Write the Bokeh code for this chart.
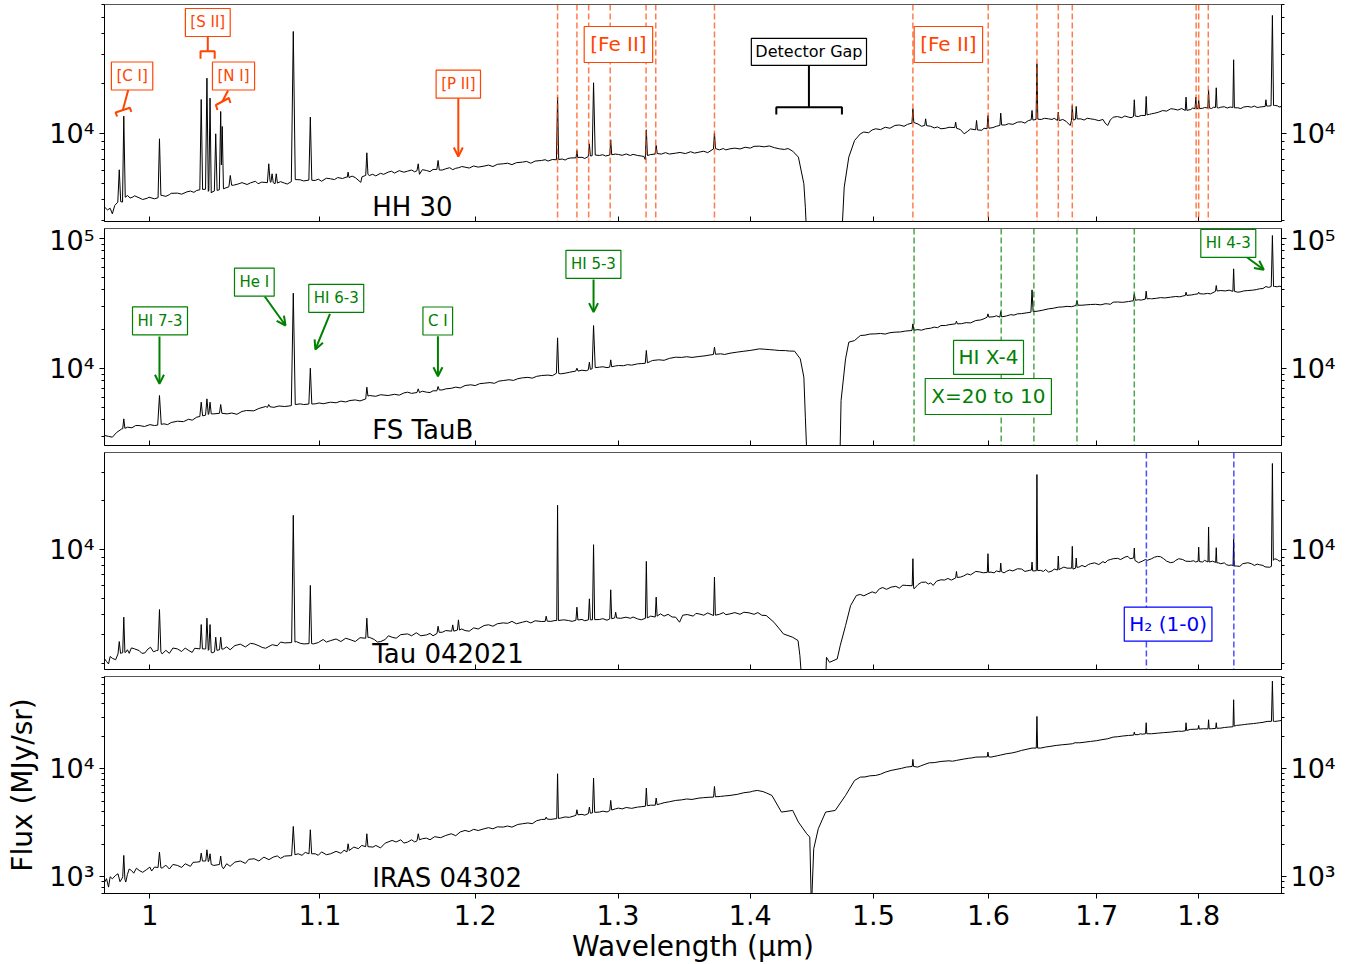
from bokeh.plotting import figure
from bokeh.models import (Range1d, FixedTicker, CustomJSTickFormatter, LogAxis,
                          Span, Label, Arrow, OpenHead)
from bokeh.layouts import column
from bokeh.embed import file_html
from bokeh.resources import INLINE

FONT = "DejaVu Sans"
RED = "#ff4500"
GREEN = "#008000"
BLUE = "#0000ff"

# ---------------------------------------------------------------- data
x_ticks = [1.0, 1.1, 1.2, 1.3, 1.4, 1.5, 1.6, 1.7, 1.8]
x_limits = (0.9749, 1.8855)
y_major = [1e2, 1e3, 1e4, 1e5, 1e6]
y_minor = [m * 10.0 ** e for e in range(2, 6) for m in range(2, 10)]

panel_names = ["HH 30", "FS TauB", "Tau 042021", "IRAS 04302"]
panel_ylims = [(2963, 60100), (2543, 118700), (1829, 39700), (700, 71500)]
name_pos = [(1.1327, 3633), (1.1327, 3336), (1.1327, 2268), (1.1327, 969)]

# --- HH 30: continuum nodes and emission lines
hh30_wl = [
    0.9750, 0.9765, 0.9780, 0.9792, 0.9805, 0.9822, 0.9830, 0.9838,
    0.9848, 0.9855, 0.9863, 0.9876, 0.9905, 0.9940, 0.9985, 1.0026,
    1.0046, 1.0054, 1.0062, 1.0069, 1.0110, 1.0156, 1.0210, 1.0266,
    1.0284, 1.0292, 1.0300, 1.0317, 1.0325, 1.0333, 1.0336, 1.0343,
    1.0350, 1.0354, 1.0368, 1.0376, 1.0384, 1.0397, 1.0405, 1.0409,
    1.0414, 1.0421, 1.0453, 1.0461, 1.0469, 1.0511, 1.0580, 1.0647,
    1.0681, 1.0689, 1.0697, 1.0702, 1.0709, 1.0716, 1.0727, 1.0734,
    1.0741, 1.0785, 1.0825, 1.0837, 1.0849, 1.0879, 1.0932, 1.0941,
    1.0950, 1.0971, 1.1066, 1.1163, 1.1170, 1.1175, 1.1181, 1.1255,
    1.1262, 1.1286, 1.1293, 1.1300, 1.1308, 1.1429, 1.1554, 1.1615,
    1.1623, 1.1631, 1.1677, 1.1745, 1.1753, 1.1761, 1.1804, 1.1890,
    1.1932, 1.2060, 1.2190, 1.2322, 1.2455, 1.2559, 1.2567, 1.2575,
    1.2640, 1.2698, 1.2704, 1.2710, 1.2785, 1.2793, 1.2800, 1.2813,
    1.2823, 1.2835, 1.2864, 1.2940, 1.2947, 1.2954, 1.3003, 1.3143,
    1.3190, 1.3200, 1.3208, 1.3216, 1.3273, 1.3281, 1.3289, 1.3427,
    1.3603, 1.3714, 1.3722, 1.3730, 1.3842, 1.4071, 1.4230, 1.4337,
    1.4383, 1.4427, 1.4439, 1.4455, 1.4731, 1.4757, 1.4795, 1.4843,
    1.4891, 1.5020, 1.5182, 1.5328, 1.5336, 1.5344, 1.5438, 1.5446,
    1.5454, 1.5579, 1.5700, 1.5708, 1.5716, 1.5783, 1.5885, 1.5893,
    1.5901, 1.5987, 1.5995, 1.6003, 1.6102, 1.6110, 1.6118, 1.6262,
    1.6387, 1.6395, 1.6403, 1.6432, 1.6440, 1.6448, 1.6547, 1.6630,
    1.6638, 1.6646, 1.6749, 1.6761, 1.6769, 1.6777, 1.6798, 1.6806,
    1.6814, 1.6941, 1.7105, 1.7158, 1.7306, 1.7354, 1.7362, 1.7370,
    1.7470, 1.7478, 1.7486, 1.7531, 1.7720, 1.7865, 1.7873, 1.7881,
    1.7963, 1.7971, 1.7979, 1.7992, 1.8000, 1.8008, 1.8092, 1.8100,
    1.8108, 1.8170, 1.8178, 1.8186, 1.8225, 1.8348, 1.8356, 1.8364,
    1.8400, 1.8503, 1.8623, 1.8683, 1.8691, 1.8699, 1.8745, 1.8759,
    1.8771, 1.8783, 1.8856,
]
hh30_flux = [
    3615, 3480, 3560, 3297, 3700, 3876, 6069, 3900,
    3880, 12780, 4150, 4251, 4160, 4117, 4090, 4059,
    4120, 9330, 4260, 4251, 4300, 4391, 4470, 4557,
    4600, 16100, 4620, 4640, 21640, 4500, 4560, 16400,
    4400, 4453, 4520, 10000, 4560, 4600, 13630, 6500,
    11070, 4664, 4800, 5610, 4900, 4998, 5060, 5115,
    5080, 6597, 5150, 5100, 5742, 5080, 5000, 5742,
    5050, 5044, 5150, 41340, 5300, 5284, 5260, 12600,
    5250, 5235, 5357, 5482, 5480, 5876, 5450, 5100,
    5500, 5620, 7683, 5700, 5610, 5876, 5958, 6000,
    6597, 5700, 6014, 6100, 6909, 6050, 6155, 6250,
    6298, 6388, 6597, 6750, 6909, 6973, 16630, 7000,
    7100, 7169, 7934, 7200, 7300, 8704, 7350, 7380,
    20290, 7450, 7405, 7450, 9202, 7480, 7508, 7405,
    7300, 7000, 10570, 7400, 7550, 8505, 7600, 7647,
    7754, 8100, 10090, 8150, 8121, 8427, 8121, 7863,
    7236, 4998, 3615, 2000, 2000, 4773, 7236, 9117,
    10000, 10720, 11230, 11600, 14150, 11700, 11230, 12310,
    11200, 10720, 10900, 11760, 10800, 10000, 10570, 12030,
    10550, 10720, 12890, 10800, 11230, 13320, 11300, 11760,
    12140, 13820, 12100, 12200, 26410, 12250, 12310, 12030,
    13510, 12000, 11230, 12000, 14820, 12100, 12200, 14610,
    12300, 12310, 11230, 12600, 12600, 12700, 16030, 12800,
    12890, 16790, 13000, 13200, 14150, 13820, 16630, 13850,
    14150, 16630, 14150, 14200, 15880, 14200, 14300, 18410,
    14300, 14400, 18930, 14400, 14470, 14400, 27920, 14350,
    14340, 14610, 14470, 14600, 16030, 14700, 14750, 51640,
    14820, 14820, 14610,
]
# --- HH 30: small continuum wiggles
hh30_noise_wl = [
    0.9890, 0.9915, 0.9960, 0.9995, 1.0090, 1.0120, 1.0180, 1.0230,
    1.0250, 1.0480, 1.0530, 1.0560, 1.0610, 1.0625, 1.0760, 1.0800,
    1.0900, 1.0990, 1.1010, 1.1040, 1.1090, 1.1110, 1.1140, 1.1200,
    1.1220, 1.1330, 1.1350, 1.1380, 1.1400, 1.1450, 1.1470, 1.1500,
    1.1530, 1.1580, 1.1600, 1.1650, 1.1700, 1.1720, 1.1780, 1.1830,
    1.1850, 1.1870, 1.1910, 1.1960, 1.1990, 1.2020, 1.2090, 1.2120,
    1.2150, 1.2220, 1.2250, 1.2280, 1.2350, 1.2380, 1.2410, 1.2480,
    1.2500, 1.2530, 1.2600, 1.2620, 1.2660, 1.2740, 1.2760, 1.2890,
    1.2910, 1.2980, 1.3030, 1.3060, 1.3090, 1.3110, 1.3170, 1.3240,
    1.3320, 1.3350, 1.3380, 1.3460, 1.3500, 1.3540, 1.3570, 1.3640,
    1.3670, 1.3760, 1.3790, 1.3810, 1.3880, 1.3920, 1.3960, 1.4000,
    1.4030, 1.4110, 1.4150, 1.4190, 1.4270, 1.4300,
    1.4920, 1.4960, 1.4990, 1.5060, 1.5100, 1.5140, 1.5220, 1.5260,
    1.5290, 1.5380, 1.5410, 1.5490, 1.5520, 1.5550, 1.5620, 1.5650,
    1.5750, 1.5810, 1.5840, 1.5940, 1.5960, 1.6040, 1.6070, 1.6150,
    1.6180, 1.6220, 1.6300, 1.6330, 1.6360, 1.6480, 1.6510, 1.6580,
    1.6600, 1.6680, 1.6710, 1.6850, 1.6880, 1.6910, 1.6980, 1.7020,
    1.7060, 1.7080, 1.7130, 1.7200, 1.7240, 1.7270, 1.7330, 1.7400,
    1.7430, 1.7510, 1.7560, 1.7600, 1.7640, 1.7680, 1.7750, 1.7790,
    1.7830, 1.7920, 1.7940, 1.8040, 1.8060, 1.8130, 1.8150, 1.8200,
    1.8260, 1.8290, 1.8320, 1.8430, 1.8460, 1.8540, 1.8570, 1.8600,
    1.8650, 1.8720, 1.8810, 1.8830,
]
hh30_noise_flux = [
    4100, 4230, 4020, 4150, 4200, 4380, 4330, 4520,
    4440, 4900, 5080, 4950, 5180, 5000, 5150, 4980,
    5200, 5330, 5180, 5400, 5300, 5450, 5380, 5560,
    5450, 5700, 5580, 5780, 5700, 5950, 5800, 6000,
    5870, 6050, 5900, 6080, 5920, 6100, 6050, 6250,
    6080, 6200, 6350, 6220, 6400, 6300, 6480, 6350,
    6550, 6650, 6520, 6700, 6820, 6650, 6850, 6980,
    6850, 7000, 7050, 6950, 7150, 7220, 7100, 7480,
    7350, 7550, 7420, 7560, 7400, 7520, 7350, 7500,
    7550, 7700, 7550, 7720, 7600, 7800, 7650, 7850,
    7700, 8000, 8150, 8000, 8200, 8100, 8300, 8200,
    8400, 8350, 8450, 8250, 8050, 8150,
    10250, 10150, 10550, 10600, 10950, 10800, 11300, 11100,
    11400, 11450, 11100, 11100, 10850, 11000, 10800, 10950,
    10600, 10300, 10700, 10500, 10800, 10900, 11100, 11300,
    11500, 11400, 11800, 11600, 12000, 12200, 12400, 12200,
    12400, 12200, 11900, 12300, 12100, 12400, 12200, 12000,
    12200, 11600, 12100, 12700, 12500, 12800, 12500, 12700,
    12900, 13100, 13300, 13500, 13800, 13700, 14100, 13900,
    14200, 14000, 14300, 14250, 14400, 14200, 14450, 14300,
    14550, 14300, 14500, 14200, 14500, 14450, 14700, 14400,
    14550, 14700, 14750, 14500,
]

# --- FS TauB
fstaub_wl = [
    0.9750, 0.9770, 0.9792, 0.9815, 0.9844, 0.9849, 0.9855, 0.9861,
    0.9876, 0.9940, 1.0026, 1.0044, 1.0054, 1.0064, 1.0080, 1.0156,
    1.0266, 1.0284, 1.0292, 1.0300, 1.0317, 1.0325, 1.0333, 1.0336,
    1.0343, 1.0350, 1.0365, 1.0398, 1.0405, 1.0412, 1.0443, 1.0556,
    1.0670, 1.0682, 1.0689, 1.0696, 1.0785, 1.0825, 1.0837, 1.0849,
    1.0879, 1.0932, 1.0941, 1.0950, 1.0971, 1.1066, 1.1187, 1.1286,
    1.1293, 1.1300, 1.1308, 1.1429, 1.1554, 1.1615, 1.1623, 1.1631,
    1.1677, 1.1745, 1.1753, 1.1761, 1.1804, 1.1932, 1.2060, 1.2190,
    1.2322, 1.2455, 1.2559, 1.2567, 1.2575, 1.2589, 1.2696, 1.2704,
    1.2712, 1.2785, 1.2793, 1.2800, 1.2813, 1.2823, 1.2835, 1.2864,
    1.2940, 1.2947, 1.2954, 1.3003, 1.3143, 1.3200, 1.3208, 1.3216,
    1.3255, 1.3427, 1.3603, 1.3714, 1.3722, 1.3730, 1.3842, 1.4071,
    1.4230, 1.4352, 1.4398, 1.4427, 1.4439, 1.4455, 1.4720, 1.4731,
    1.4768, 1.4795, 1.4843, 1.4891, 1.5020, 1.5182, 1.5328, 1.5336,
    1.5344, 1.5446, 1.5579, 1.5707, 1.5715, 1.5723, 1.5886, 1.5987,
    1.5995, 1.6003, 1.6102, 1.6110, 1.6118, 1.6262, 1.6385, 1.6395,
    1.6405, 1.6547, 1.6638, 1.6803, 1.6813, 1.6823, 1.6941, 1.7105,
    1.7158, 1.7306, 1.7352, 1.7362, 1.7372, 1.7470, 1.7478, 1.7486,
    1.7531, 1.7720, 1.7865, 1.7873, 1.7881, 1.7992, 1.8000, 1.8008,
    1.8170, 1.8178, 1.8186, 1.8225, 1.8348, 1.8356, 1.8364, 1.8400,
    1.8503, 1.8623, 1.8691, 1.8747, 1.8759, 1.8771, 1.8783, 1.8856,
]
fstaub_flux = [
    3035, 2990, 2946, 3200, 3415, 3420, 4077, 3450,
    3517, 3622, 3622, 3650, 6162, 3700, 3731, 3911,
    4200, 4250, 5475, 4300, 4350, 5808, 4400, 4450,
    5475, 4452, 4452, 4500, 5254, 4500, 4452, 4724,
    5072, 5000, 5254, 5050, 5072, 5150, 37760, 5250,
    5317, 5300, 10000, 5300, 5317, 5475, 5640, 5800,
    7142, 6100, 6162, 6162, 6539, 6500, 6935, 6500,
    6539, 6700, 7227, 6800, 6935, 7357, 7664, 8036,
    8426, 8780, 9152, 17120, 9100, 9045, 9500, 10000,
    9500, 9700, 11120, 9800, 9900, 21290, 10100, 10180,
    10200, 11590, 10250, 10480, 10800, 10900, 13680, 11000,
    11460, 12150, 12300, 12740, 14510, 12800, 13040, 14080,
    13680, 13520, 11800, 8528, 4200, 1732, 1732, 5640,
    11800, 15850, 16320, 17840, 18370, 18920, 19480, 21930,
    19600, 20070, 21290, 21930, 22990, 21930, 23260, 24680,
    26170, 24700, 24680, 27290, 24800, 26170, 26970, 40050,
    27200, 28610, 29460, 30350, 33150, 30500, 30880, 31250,
    32190, 32570, 33000, 37310, 33300, 34000, 39110, 34150,
    34150, 35180, 36230, 38420, 36300, 37310, 38420, 37400,
    39000, 43240, 39300, 39560, 39000, 58080, 39000, 38420,
    39560, 40770, 42490, 42500, 104800, 42490, 42490, 42490,
]
fstaub_noise_wl = [
    0.9900, 0.9920, 0.9970, 1.0000, 1.0100, 1.0120, 1.0190, 1.0220,
    1.0240, 1.0470, 1.0500, 1.0530, 1.0600, 1.0630, 1.0720, 1.0750,
    1.0900, 1.0995, 1.1020, 1.1100, 1.1130, 1.1160, 1.1220, 1.1250,
    1.1350, 1.1380, 1.1470, 1.1500, 1.1530, 1.1580, 1.1650, 1.1700,
    1.1720, 1.1780, 1.1840, 1.1870, 1.1900, 1.1970, 1.2000, 1.2030,
    1.2100, 1.2130, 1.2160, 1.2230, 1.2260, 1.2290, 1.2360, 1.2390,
    1.2420, 1.2500, 1.2530, 1.2620, 1.2650, 1.2740, 1.2770, 1.2890,
    1.2920, 1.2980, 1.3040, 1.3070, 1.3100, 1.3170, 1.3240, 1.3300,
    1.3340, 1.3380, 1.3470, 1.3510, 1.3550, 1.3650, 1.3680, 1.3770,
    1.3800, 1.3900, 1.3950, 1.4000, 1.4030, 1.4110, 1.4150, 1.4190,
    1.4280, 1.4310,
    1.4930, 1.4970, 1.5060, 1.5100, 1.5140, 1.5230, 1.5270, 1.5380,
    1.5410, 1.5490, 1.5520, 1.5550, 1.5620, 1.5650, 1.5760, 1.5800,
    1.5840, 1.5930, 1.5960, 1.6050, 1.6070, 1.6160, 1.6200, 1.6230,
    1.6300, 1.6340, 1.6450, 1.6490, 1.6590, 1.6680, 1.6720, 1.6760,
    1.6860, 1.6900, 1.6990, 1.7040, 1.7080, 1.7130, 1.7200, 1.7250,
    1.7400, 1.7430, 1.7520, 1.7580, 1.7620, 1.7660, 1.7770, 1.7810,
    1.7840, 1.7930, 1.7960, 1.8050, 1.8090, 1.8120, 1.8270, 1.8310,
    1.8430, 1.8460, 1.8550, 1.8590, 1.8660, 1.8720, 1.8810, 1.8830,
]
fstaub_noise_flux = [
    3480, 3620, 3560, 3680, 3680, 3820, 3880, 4050,
    3980, 4520, 4420, 4650, 4700, 4900, 5000, 5120,
    5250, 5400, 5330, 5420, 5580, 5500, 5700, 5600,
    6080, 6250, 6300, 6200, 6450, 6400, 6650, 6500,
    6700, 6800, 7000, 7150, 7050, 7450, 7350, 7600,
    7750, 7650, 7950, 8150, 8050, 8300, 8500, 8380,
    8650, 8850, 8750, 9150, 9300, 9650, 9550, 10250,
    10100, 10400, 10450, 10650, 10550, 10850, 11300, 11600,
    11500, 11900, 12100, 12250, 12100, 12450, 12600, 12900,
    12750, 13300, 13500, 13700, 13850, 14000, 13900, 13800,
    13650, 13550,
    17950, 18300, 18500, 18300, 18750, 19000, 19300, 19800,
    19600, 20300, 20700, 20500, 21300, 21600, 22000, 22400,
    22300, 23500, 24000, 24900, 25300, 25200, 25800, 25600,
    26300, 26600, 27500, 27900, 28900, 29600, 29900, 29700,
    30500, 30700, 31000, 30700, 31300, 31000, 32300, 32100,
    33600, 33400, 34300, 34500, 34900, 34700, 35600, 35400,
    35900, 36600, 37000, 37200, 37600, 37300, 39300, 39800,
    38700, 39300, 39800, 40200, 41000, 41800, 42300, 42700,
]

# --- Tau 042021
tau_wl = [
    0.9750, 0.9771, 0.9792, 0.9823, 0.9830, 0.9837, 0.9844, 0.9849,
    0.9855, 0.9861, 0.9866, 0.9897, 0.9940, 0.9972, 1.0004, 1.0037,
    1.0046, 1.0054, 1.0062, 1.0069, 1.0156, 1.0221, 1.0254, 1.0285,
    1.0292, 1.0299, 1.0310, 1.0318, 1.0325, 1.0333, 1.0336, 1.0343,
    1.0350, 1.0354, 1.0369, 1.0376, 1.0383, 1.0398, 1.0405, 1.0412,
    1.0421, 1.0488, 1.0602, 1.0670, 1.0785, 1.0827, 1.0837, 1.0847,
    1.0855, 1.0902, 1.0933, 1.0941, 1.0949, 1.0960, 1.1066, 1.1187,
    1.1286, 1.1293, 1.1300, 1.1308, 1.1381, 1.1454, 1.1554, 1.1677,
    1.1746, 1.1753, 1.1760, 1.1804, 1.1843, 1.1850, 1.1857, 1.1881,
    1.1888, 1.1895, 1.1932, 1.2060, 1.2190, 1.2322, 1.2455, 1.2480,
    1.2487, 1.2494, 1.2549, 1.2561, 1.2567, 1.2573, 1.2644, 1.2697,
    1.2704, 1.2711, 1.2786, 1.2793, 1.2800, 1.2815, 1.2823, 1.2831,
    1.2864, 1.2940, 1.2947, 1.2954, 1.2976, 1.2983, 1.2990, 1.3058,
    1.3143, 1.3201, 1.3208, 1.3215, 1.3274, 1.3281, 1.3288, 1.3313,
    1.3427, 1.3456, 1.3514, 1.3603, 1.3715, 1.3722, 1.3729, 1.3842,
    1.3991, 1.4126, 1.4187, 1.4263, 1.4337, 1.4380, 1.4395, 1.4411,
    1.4604, 1.4611, 1.4636, 1.4699, 1.4724, 1.4768, 1.4810, 1.4858,
    1.4954, 1.5051, 1.5150, 1.5280, 1.5330, 1.5336, 1.5342, 1.5346,
    1.5446, 1.5511, 1.5579, 1.5708, 1.5715, 1.5722, 1.5750, 1.5886,
    1.5953, 1.5989, 1.5995, 1.6001, 1.6022, 1.6104, 1.6110, 1.6116,
    1.6160, 1.6262, 1.6369, 1.6389, 1.6395, 1.6401, 1.6434, 1.6440,
    1.6446, 1.6475, 1.6547, 1.6632, 1.6638, 1.6644, 1.6690, 1.6763,
    1.6769, 1.6775, 1.6800, 1.6806, 1.6812, 1.6832, 1.6941, 1.7105,
    1.7158, 1.7272, 1.7356, 1.7362, 1.7368, 1.7403, 1.7531, 1.7590,
    1.7720, 1.7800, 1.7915, 1.7994, 1.8000, 1.8006, 1.8094, 1.8100,
    1.8106, 1.8172, 1.8178, 1.8184, 1.8225, 1.8307, 1.8350, 1.8356,
    1.8362, 1.8386, 1.8503, 1.8623, 1.8703, 1.8749, 1.8759, 1.8769,
    1.8783, 1.8856,
]
tau_flux = [
    2124, 1979, 2144, 2280, 2718, 2300, 2313, 2320,
    3841, 2330, 2335, 2484, 2392, 2313, 2507, 2392,
    2400, 4282, 2350, 2280, 2449, 2392, 2472, 2450,
    3460, 2450, 2449, 2450, 3787, 2400, 2420, 3460,
    2330, 2313, 2350, 2890, 2400, 2420, 2890, 2440,
    2449, 2567, 2629, 2472, 2667, 2680, 16290, 2700,
    2718, 2629, 2640, 6025, 2640, 2629, 2756, 2796,
    2850, 3787, 2880, 2890, 2718, 2890, 3030, 2988,
    3050, 3379, 3100, 3177, 3150, 3443, 3150, 3200,
    3698, 3200, 3177, 3411, 3543, 3577, 3611, 3620,
    3895, 3630, 3663, 3663, 18780, 3663, 3663, 3680,
    4427, 3690, 3700, 4983, 3700, 3700, 10740, 3710,
    3715, 3750, 5664, 3760, 3800, 4123, 3800, 3841,
    3751, 3780, 8472, 3800, 3850, 5104, 3900, 4026,
    3841, 3577, 3988, 4026, 3932, 6781, 3950, 4026,
    4085, 3932, 3577, 3030, 2890, 2756, 2227, 1525,
    1525, 2175, 2025, 2124, 2567, 3411, 4533, 5226,
    5351, 5745, 5882, 6025, 6000, 8800, 5900, 5745,
    6316, 6025, 6529, 6700, 7349, 6750, 6781, 7349,
    7211, 7250, 9448, 7250, 7280, 7300, 8274, 7330,
    7349, 7633, 7455, 7500, 8392, 7400, 7420, 29040,
    7450, 7455, 7280, 7500, 9140, 7550, 7816, 7700,
    10490, 7600, 7700, 8885, 7800, 7816, 8196, 8596,
    8800, 9013, 8900, 10240, 8600, 8313, 8800, 9097,
    8313, 8800, 8472, 8500, 10380, 8450, 8400, 13800,
    8400, 8350, 10290, 8300, 8196, 8006, 8000, 11580,
    7950, 7931, 8313, 8082, 7816, 7900, 33960, 8600,
    8800, 8596,
]
tau_noise_wl = [
    0.9760, 0.9780, 0.9810, 0.9875, 0.9885, 0.9915, 0.9955, 0.9990,
    1.0020, 1.0090, 1.0110, 1.0130, 1.0180, 1.0200, 1.0240, 1.0440,
    1.0460, 1.0520, 1.0550, 1.0580, 1.0630, 1.0650, 1.0710, 1.0740,
    1.0760, 1.0880, 1.0990, 1.1020, 1.1040, 1.1100, 1.1130, 1.1160,
    1.1220, 1.1250, 1.1340, 1.1360, 1.1410, 1.1430, 1.1480, 1.1510,
    1.1580, 1.1610, 1.1640, 1.1700, 1.1720, 1.1780, 1.1910, 1.1960,
    1.1990, 1.2020, 1.2090, 1.2120, 1.2150, 1.2220, 1.2250, 1.2280,
    1.2350, 1.2380, 1.2410, 1.2520, 1.2610, 1.2670, 1.2740, 1.2760,
    1.2890, 1.2920, 1.3020, 1.3090, 1.3110, 1.3170, 1.3240, 1.3340,
    1.3370, 1.3400, 1.3480, 1.3560, 1.3580, 1.3640, 1.3670, 1.3760,
    1.3790, 1.3810, 1.3880, 1.3920, 1.3950, 1.4030, 1.4060, 1.4090,
    1.4890, 1.4920, 1.4990, 1.5020, 1.5080, 1.5110, 1.5190, 1.5220,
    1.5250, 1.5380, 1.5410, 1.5470, 1.5490, 1.5540, 1.5610, 1.5640,
    1.5670, 1.5780, 1.5810, 1.5840, 1.5920, 1.6050, 1.6070, 1.6140,
    1.6190, 1.6220, 1.6300, 1.6330, 1.6500, 1.6520, 1.6580, 1.6600,
    1.6720, 1.6860, 1.6890, 1.6920, 1.6980, 1.7020, 1.7060, 1.7080,
    1.7130, 1.7200, 1.7230, 1.7300, 1.7320, 1.7440, 1.7470, 1.7490,
    1.7560, 1.7620, 1.7650, 1.7680, 1.7750, 1.7770, 1.7840, 1.7870,
    1.7950, 1.7970, 1.8040, 1.8060, 1.8140, 1.8200, 1.8260, 1.8280,
    1.8330, 1.8420, 1.8450, 1.8540, 1.8570, 1.8600, 1.8660, 1.8680,
    1.8730, 1.8810, 1.8830,
]
tau_noise_flux = [
    2050, 2200, 2100, 2420, 2300, 2450, 2300, 2450,
    2350, 2400, 2300, 2480, 2360, 2480, 2330, 2520,
    2420, 2620, 2520, 2650, 2560, 2500, 2600, 2560,
    2700, 2650, 2680, 2800, 2700, 2820, 2720, 2850,
    2720, 2870, 2800, 2700, 2800, 2950, 2850, 3000,
    2950, 3080, 2950, 3050, 2950, 3100, 3250, 3150,
    3300, 3250, 3450, 3380, 3500, 3520, 3620, 3500,
    3630, 3540, 3650, 3620, 3700, 3620, 3720, 3650,
    3760, 3680, 3780, 3780, 3850, 3700, 3900, 3900,
    4000, 3850, 3950, 3900, 4050, 3950, 4080, 4000,
    4100, 3980, 4100, 4000, 4120, 4000, 4100, 3950,
    5300, 5200, 5500, 5400, 5850, 5700, 5950, 5800,
    6050, 6100, 6300, 6150, 6250, 6400, 6500, 6650,
    6500, 6900, 7100, 7000, 7300, 7200, 7400, 7200,
    7500, 7400, 7600, 7350, 7350, 7550, 7400, 7600,
    7700, 8000, 7850, 8100, 8300, 8100, 8450, 8300,
    8700, 8850, 8700, 9100, 8800, 8500, 8700, 8600,
    9000, 9050, 8800, 8500, 8400, 8600, 8700, 8500,
    8550, 8400, 8400, 8600, 8500, 8300, 8300, 8100,
    8050, 7900, 8200, 8200, 8000, 8150, 8000, 7850,
    7800, 8700, 8500,
]

# --- IRAS 04302
iras_wl = [
    0.9750, 0.9760, 0.9771, 0.9780, 0.9792, 0.9810, 0.9823, 0.9834,
    0.9844, 0.9849, 0.9855, 0.9861, 0.9866, 0.9897, 0.9940, 0.9983,
    1.0026, 1.0046, 1.0054, 1.0062, 1.0069, 1.0156, 1.0266, 1.0285,
    1.0292, 1.0299, 1.0318, 1.0325, 1.0333, 1.0336, 1.0343, 1.0350,
    1.0365, 1.0398, 1.0405, 1.0412, 1.0421, 1.0488, 1.0602, 1.0716,
    1.0785, 1.0827, 1.0837, 1.0847, 1.0867, 1.0933, 1.0941, 1.0949,
    1.0971, 1.1066, 1.1168, 1.1175, 1.1182, 1.1211, 1.1286, 1.1293,
    1.1300, 1.1332, 1.1454, 1.1554, 1.1615, 1.1623, 1.1631, 1.1677,
    1.1804, 1.1932, 1.2060, 1.2190, 1.2322, 1.2455, 1.2480, 1.2487,
    1.2494, 1.2549, 1.2561, 1.2567, 1.2573, 1.2589, 1.2697, 1.2704,
    1.2711, 1.2786, 1.2793, 1.2800, 1.2815, 1.2823, 1.2831, 1.2864,
    1.2940, 1.2947, 1.2954, 1.3003, 1.3143, 1.3201, 1.3208, 1.3215,
    1.3274, 1.3281, 1.3288, 1.3313, 1.3427, 1.3603, 1.3715, 1.3722,
    1.3729, 1.3842, 1.4055, 1.4171, 1.4247, 1.4337, 1.4383, 1.4450,
    1.4475, 1.4488, 1.4507, 1.4544, 1.4604, 1.4683, 1.4768, 1.4843,
    1.4891, 1.5020, 1.5150, 1.5280, 1.5330, 1.5336, 1.5342, 1.5378,
    1.5478, 1.5579, 1.5715, 1.5886, 1.5989, 1.5995, 1.6001, 1.6022,
    1.6160, 1.6299, 1.6395, 1.6434, 1.6440, 1.6446, 1.6475, 1.6618,
    1.6769, 1.6795, 1.6941, 1.7105, 1.7158, 1.7306, 1.7356, 1.7362,
    1.7368, 1.7421, 1.7472, 1.7478, 1.7484, 1.7531, 1.7720, 1.7867,
    1.7873, 1.7879, 1.7915, 1.7994, 1.8000, 1.8006, 1.8094, 1.8100,
    1.8106, 1.8172, 1.8178, 1.8184, 1.8225, 1.8350, 1.8356, 1.8362,
    1.8386, 1.8503, 1.8623, 1.8703, 1.8749, 1.8759, 1.8769, 1.8783,
    1.8856,
]
iras_flux = [
    893, 960, 802, 1000, 958, 1030, 1066, 900,
    958, 1000, 1576, 950, 893, 1145, 1145, 1169,
    1229, 1220, 1692, 1210, 1203, 1273, 1367, 1380,
    1656, 1400, 1400, 1778, 1380, 1400, 1633, 1300,
    1273, 1300, 1554, 1250, 1186, 1367, 1468, 1521,
    1554, 1570, 2924, 1600, 1633, 1633, 2724, 1633,
    1633, 1633, 1700, 2021, 1750, 1883, 1900, 2501,
    1900, 1883, 2170, 2094, 2150, 2501, 2200, 2280,
    2414, 2685, 2782, 2884, 3096, 3395, 3400, 3568,
    3420, 3444, 3450, 8989, 3470, 3493, 3700, 4173,
    3750, 3850, 4418, 3880, 3900, 8196, 3950, 3971,
    4100, 5092, 4150, 4323, 4418, 4500, 6622, 4550,
    4600, 5351, 4650, 4743, 5092, 5351, 5466, 6862,
    5500, 5664, 6301, 5664, 3971, 4114, 3208, 2501,
    2330, 500, 1817, 2782, 3971, 4114, 5664, 7798,
    8374, 8676, 9652, 10360, 10500, 12210, 10500, 10360,
    11360, 11690, 11950, 12820, 12900, 14270, 12900, 12820,
    13770, 14790, 15540, 15550, 30520, 15550, 15540, 16440,
    17040, 17410, 17910, 18960, 19650, 20350, 20500, 21850,
    20700, 21090, 21100, 26670, 21100, 21090, 21850, 22500,
    26670, 22600, 23130, 23300, 25190, 23300, 23400, 28430,
    23400, 23600, 26670, 23700, 23800, 24500, 43550, 24800,
    25190, 25920, 26670, 27440, 27500, 64820, 27500, 27440,
    28030,
]
iras_noise_wl = [
    0.9875, 0.9885, 0.9910, 0.9925, 0.9960, 1.0000, 1.0010, 1.0090,
    1.0110, 1.0130, 1.0180, 1.0200, 1.0230, 1.0245, 1.0440, 1.0460,
    1.0520, 1.0550, 1.0570, 1.0630, 1.0660, 1.0690, 1.0740, 1.0760,
    1.0890, 1.0910, 1.0990, 1.1010, 1.1040, 1.1100, 1.1130, 1.1150,
    1.1240, 1.1260, 1.1350, 1.1380, 1.1410, 1.1480, 1.1510, 1.1530,
    1.1580, 1.1600, 1.1650, 1.1700, 1.1730, 1.1770, 1.1840, 1.1870,
    1.1900, 1.1960, 1.1990, 1.2020, 1.2090, 1.2120, 1.2150, 1.2220,
    1.2250, 1.2290, 1.2360, 1.2390, 1.2420, 1.2520, 1.2620, 1.2650,
    1.2740, 1.2760, 1.2890, 1.2920, 1.2980, 1.3030, 1.3060, 1.3100,
    1.3170, 1.3240, 1.3340, 1.3380, 1.3470, 1.3510, 1.3550, 1.3640,
    1.3680, 1.3770, 1.3800, 1.3900, 1.3950, 1.4000, 1.4020, 1.4100,
    1.4130,
    1.4930, 1.4970, 1.5060, 1.5100, 1.5200, 1.5240, 1.5400, 1.5440,
    1.5520, 1.5650, 1.5680, 1.5780, 1.5820, 1.5850, 1.6080, 1.6110,
    1.6210, 1.6250, 1.6340, 1.6520, 1.6560, 1.6680, 1.6710, 1.6840,
    1.6880, 1.7000, 1.7050, 1.7200, 1.7250, 1.7400, 1.7440, 1.7600,
    1.7650, 1.7800, 1.7830, 1.8050, 1.8130, 1.8260, 1.8300, 1.8440,
    1.8470, 1.8560, 1.8590, 1.8660, 1.8810, 1.8830,
]
iras_noise_flux = [
    1050, 1180, 1080, 1200, 1100, 1230, 1130, 1280,
    1180, 1300, 1220, 1320, 1250, 1360, 1320, 1250,
    1400, 1330, 1450, 1400, 1520, 1440, 1560, 1480,
    1580, 1680, 1580, 1700, 1600, 1720, 1650, 1760,
    1820, 1950, 1950, 1850, 2050, 2100, 2200, 2050,
    2200, 2100, 2250, 2200, 2350, 2300, 2500, 2400,
    2600, 2620, 2750, 2680, 2850, 2780, 2900, 2950,
    2880, 3050, 3150, 3100, 3300, 3400, 3580, 3550,
    3780, 3720, 4050, 3980, 4250, 4250, 4380, 4300,
    4450, 4600, 4850, 4950, 5150, 5250, 5200, 5400,
    5450, 5550, 5600, 5800, 6000, 6100, 6200, 6150,
    5950,
    8400, 8600, 8900, 9300, 9900, 10100, 10600, 11000,
    11400, 11850, 11750, 12300, 12500, 12600, 13200, 13400,
    14000, 14300, 15100, 15900, 16100, 16700, 16800, 17400,
    17600, 18200, 18600, 19800, 20100, 20700, 20900, 21400,
    21600, 22300, 22200, 23500, 23500, 24100, 24300, 25500,
    25700, 26200, 26400, 26900, 27600, 27800,
]

# line markers (micron)
feii_lines = [1.2567, 1.2704, 1.2788, 1.2943, 1.3206, 1.3278, 1.3722,
              1.5336, 1.5997, 1.6440, 1.6638, 1.6769, 1.7974, 1.8000, 1.8097]
brackett_lines = [1.5346, 1.6114, 1.6412, 1.6813, 1.7362]
h2_lines = [1.7480, 1.8358]

# annotation boxes: (text, x, y, font size, colour, padding)
p1_boxes = [
    ("[C I]", 0.99009, 22300, "15px", RED, 5),
    ("[S II]", 1.0330, 46830, "15px", RED, 5),
    ("[N I]", 1.0480, 22300, "15px", RED, 5),
    ("[P II]", 1.1887, 19900, "15px", RED, 5),
    ("[Fe II]", 1.3003, 34510, "20px", RED, 6),
    ("[Fe II]", 1.5644, 34510, "20px", RED, 6),
    ("Detector Gap", 1.4468, 31190, "16px", "black", 4),
]
p2_boxes = [
    ("HI 7-3", 1.0057, 23150, "15px", GREEN, 5),
    ("He I", 1.0603, 45860, "15px", GREEN, 5),
    ("HI 6-3", 1.1101, 34490, "15px", GREEN, 5),
    ("C I", 1.1751, 23070, "15px", GREEN, 5),
    ("HI 5-3", 1.2822, 62990, "15px", GREEN, 5),
    ("HI 4-3", 1.8301, 91050, "15px", GREEN, 5),
    ("HI X-4", 1.6000, 12090, "20px", GREEN, 5),
    ("X=20 to 10", 1.5998, 6058, "20px", GREEN, 6),
]
p3_boxes = [
    ("H\u2082 (1-0)", 1.7694, 3478, "20px", BLUE, 5),
]

# arrows: (x_start, y_start, x_end, y_end, colour)
p1_arrows = [(1.1887, 16550, 1.1887, 7300, RED)]
p2_arrows = [
    (1.0054, 17530, 1.0054, 7586, GREEN),
    (1.0665, 35610, 1.0790, 21300, GREEN),
    (1.1062, 26210, 1.0972, 13930, GREEN),
    (1.1752, 17630, 1.1752, 8680, GREEN),
    (1.2823, 48120, 1.2823, 26970, GREEN),
    (1.8493, 71420, 1.8669, 57130, GREEN),
]

# bracket polylines (stem, then bar with feet)
red_bracket_xs = [[0.98799, 0.98495], [0.98182, 0.98099, 0.98887, 0.98970],
                  [1.0330, 1.0330], [1.0288, 1.0288, 1.0370, 1.0370],
                  [1.0448, 1.0415], [1.0386, 1.0377, 1.0453, 1.0462]]
red_bracket_ys = [[18410, 13870], [12710, 13440, 14340, 13570],
                  [39260, 31450], [28300, 31450, 31450, 28300],
                  [18230, 15650], [13910, 14910, 16430, 15330]]
gap_bracket_xs = [[1.4468, 1.4468], [1.4206, 1.4206, 1.4738, 1.4738]]
gap_bracket_ys = [[26150, 14460], [13070, 14460, 14460, 13070]]


# ---------------------------------------------------------------- helpers
def merged(wl, fl, nwl, nfl):
    pts = sorted(zip(wl + nwl, fl + nfl))
    return [p[0] for p in pts], [p[1] for p in pts]


def xfmt():
    return CustomJSTickFormatter(code="""
        const v = Math.round(tick * 10) / 10;
        return (Math.abs(v - 1) < 1e-9) ? "1" : v.toFixed(1);
    """)


def yfmt():
    return CustomJSTickFormatter(code="""
        const e = Math.round(Math.log10(tick));
        const sup = ["\\u2070","\\u00b9","\\u00b2","\\u00b3","\\u2074",
                     "\\u2075","\\u2076","\\u2077","\\u2078","\\u2079"];
        return "10" + String(e).split("").map(c => sup[parseInt(c)]).join("");
    """)


def style_y(ax, standoff):
    ax.ticker = FixedTicker(ticks=y_major, minor_ticks=y_minor)
    ax.formatter = yfmt()
    ax.major_tick_out = 5
    ax.major_tick_in = 0
    ax.minor_tick_out = 3
    ax.minor_tick_in = 0
    ax.major_tick_line_color = "black"
    ax.minor_tick_line_color = "black"
    ax.axis_line_color = "black"
    ax.major_label_text_font = FONT
    ax.major_label_text_font_size = "27px"
    ax.major_label_text_color = "black"
    ax.major_label_standoff = standoff


def make_panel(idx, wl, flux, top_border, bottom_border, last):
    lo, hi = panel_ylims[idx]
    p = figure(x_axis_type="log", y_axis_type="log",
               x_range=Range1d(*x_limits), y_range=Range1d(lo, hi),
               frame_width=1177, frame_height=217,
               min_border_left=104, min_border_right=82,
               min_border_top=top_border, min_border_bottom=bottom_border,
               toolbar_location=None, output_backend="svg")
    p.xgrid.visible = False
    p.ygrid.visible = False
    p.outline_line_color = "#555555"
    p.outline_line_width = 1

    style_y(p.yaxis[0], 5)
    ra = LogAxis()
    style_y(ra, 4)
    p.add_layout(ra, "right")

    xa = p.xaxis[0]
    xa.ticker = FixedTicker(ticks=x_ticks, minor_ticks=[])
    xa.formatter = xfmt()
    xa.axis_line_color = "black"
    xa.major_tick_line_color = "black"
    xa.minor_tick_line_color = None
    if last:
        xa.major_tick_out = 5
        xa.major_tick_in = 0
        xa.major_label_text_font = FONT
        xa.major_label_text_font_size = "27px"
        xa.major_label_text_color = "black"
        xa.major_label_standoff = 6
        xa.axis_label = "Wavelength (\u03bcm)"
        xa.axis_label_text_font = FONT
        xa.axis_label_text_font_size = "28px"
        xa.axis_label_text_font_style = "normal"
        xa.axis_label_text_color = "black"
        xa.axis_label_standoff = 2
        ya = p.yaxis[0]
        ya.axis_label = "Flux (MJy/sr)"
        ya.axis_label_text_font = FONT
        ya.axis_label_text_font_size = "28px"
        ya.axis_label_text_font_style = "normal"
        ya.axis_label_text_color = "black"
        ya.axis_label_standoff = 7
    else:
        xa.major_tick_out = 0
        xa.major_tick_in = 5
        xa.major_label_text_font_size = "1px"
        xa.major_label_text_color = None
        xa.major_label_standoff = 0

    p.line(wl, flux, line_color="black", line_width=1)

    nx, ny = name_pos[idx]
    p.add_layout(Label(x=nx, y=ny, text=panel_names[idx], text_align="left",
                       text_baseline="middle", text_font=FONT,
                       text_font_size="26px", text_color="black"))
    return p


def add_spans(p, lines, color):
    for w in lines:
        p.add_layout(Span(location=w, dimension="height", line_color=color,
                          line_alpha=0.7, line_dash="6 3", line_width=1.5))


def add_boxes(p, boxes):
    for text, x, y, size, color, pad in boxes:
        p.add_layout(Label(x=x, y=y, text=text, text_align="center",
                           text_baseline="middle", text_font=FONT,
                           text_font_size=size, text_color=color,
                           border_line_color=color, border_line_width=1.2,
                           background_fill_color="white", padding=pad))


def add_arrows(p, arrows):
    for x0, y0, x1, y1, color in arrows:
        p.add_layout(Arrow(x_start=x0, y_start=y0, x_end=x1, y_end=y1,
                           line_color=color, line_width=2,
                           end=OpenHead(size=9, line_color=color, line_width=2)))


# ---------------------------------------------------------------- panels
w1, f1 = merged(hh30_wl, hh30_flux, hh30_noise_wl, hh30_noise_flux)
w2, f2 = merged(fstaub_wl, fstaub_flux, fstaub_noise_wl, fstaub_noise_flux)
w3, f3 = merged(tau_wl, tau_flux, tau_noise_wl, tau_noise_flux)
w4, f4 = merged(iras_wl, iras_flux, iras_noise_wl, iras_noise_flux)

p1 = make_panel(0, w1, f1, 4, 3, False)
add_spans(p1, feii_lines, RED)
p1.multi_line(red_bracket_xs, red_bracket_ys, line_color=RED, line_width=2)
p1.multi_line(gap_bracket_xs, gap_bracket_ys, line_color="black", line_width=2)
add_arrows(p1, p1_arrows)
add_boxes(p1, p1_boxes)

p2 = make_panel(1, w2, f2, 4, 3, False)
add_spans(p2, brackett_lines, GREEN)
add_arrows(p2, p2_arrows)
add_boxes(p2, p2_boxes)

p3 = make_panel(2, w3, f3, 4, 3, False)
add_spans(p3, h2_lines, BLUE)
add_boxes(p3, p3_boxes)

p4 = make_panel(3, w4, f4, 4, 71, True)

layout = column(p1, p2, p3, p4, spacing=0)

with open("out.html", "w", encoding="utf-8") as f:
    f.write(file_html(layout, INLINE))
